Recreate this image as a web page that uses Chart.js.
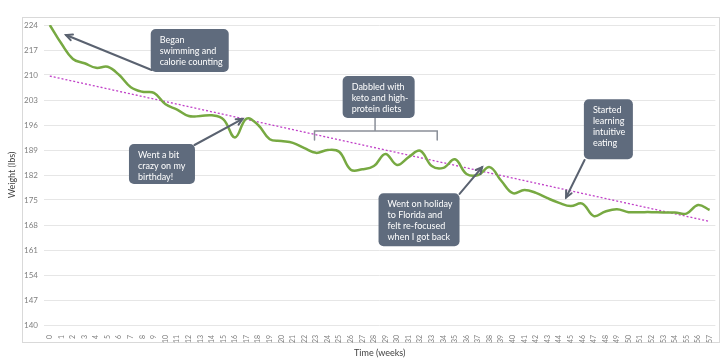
<!DOCTYPE html>
<html>
<head>
<meta charset="utf-8">
<script src="https://cdn.jsdelivr.net/npm/chart.js@4/dist/chart.umd.min.js"></script>
<style>
  html, body { margin: 0; padding: 0; background: #fff; }
</style>
</head>
<body>
<canvas id="chart" width="720" height="364"></canvas>
<script>
// week labels along the bottom
const weeks = ['0','1','2','3','4','5','6','7','8','9','10','11','12','13','14','15','16','17','18','19',
  '20','21','22','23','24','25','26','27','28','29','30','31','32','33','34','35','36','37','38','39',
  '40','41','42','43','44','45','46','47','48','49','50','51','52','53','54','55','56','57'];

// weight (lbs), one value per week
const weights = [224, 218.8, 214.5, 213.3, 212, 212.3, 210, 206.6, 205.3, 205,
  201.8, 200.3, 198.5, 198.5, 198.7, 197.6, 192.5, 197.8, 196, 192,
  191.5, 191, 189.5, 188.2, 189, 188.5, 183.5, 183.6, 184.5, 187.9,
  184.8, 187, 188.8, 184.5, 184, 186.4, 182.3, 182, 184.2, 180.4,
  176.9, 177.8, 177, 175.5, 174.2, 173.3, 174, 170.5, 171.8, 172.4,
  171.6, 171.6, 171.6, 171.5, 171.5, 171.2, 173.6, 172.2];

// dotted trend line: start and end points
const trendWeeks = [0, 57];
const trendLbs = [209.7, 169];

const yTicks = [140, 147, 154, 161, 168, 175, 182, 189, 196, 203, 210, 217, 224];

// notes on the chart, placed in week / lbs units
const notes = [
  { lines: ['Began', 'swimming and', 'calorie counting'], at: [8.72, 222.9], w: 78, h: 43,
    tail: [8.8, 211.4], tip: [1.4, 221.2] },
  { lines: ['Went a bit', 'crazy on my', 'birthday!'], at: [6.84, 190.7], w: 66, h: 40,
    tail: [12.5, 190.4], tip: [16.66, 197.7] },
  { lines: ['Dabbled with', 'keto and high-', 'protein diets'], at: [25.3, 209.7], w: 72, h: 42,
    bracket: { from: 22.87, to: 33.47, mid: 28.1, lbs: 194.3, drop: 191.8 } },
  { lines: ['Went on holiday', 'to Florida and', 'felt re-focused', 'when I got back'], at: [28.4, 176.9], w: 81, h: 53,
    tail: [35.4, 176.7], tip: [37.35, 184.2] },
  { lines: ['Started', 'learning', 'intuitive', 'eating'], at: [46.14, 203.2], w: 49, h: 60,
    tail: [46.2, 186.2], tip: [44.6, 175.7] }
];

const trendData = weeks.map(() => null);
trendWeeks.forEach((w, i) => { trendData[w] = trendLbs[i]; });

const frame = {
  id: 'frame',
  beforeDraw(chart) {
    const c = chart.ctx;
    c.save();
    c.strokeStyle = '#d9d9d9';
    c.lineWidth = 1;
    c.strokeRect(22.5, 17.5, 697, 325);
    c.restore();
  }
};

function arrow(c, x1, y1, x2, y2) {
  c.beginPath();
  c.moveTo(x1, y1);
  c.lineTo(x2, y2);
  c.stroke();
  const a = Math.atan2(y2 - y1, x2 - x1);
  const len = 7;
  c.beginPath();
  c.moveTo(x2 - len * Math.cos(a - 0.45), y2 - len * Math.sin(a - 0.45));
  c.lineTo(x2, y2);
  c.lineTo(x2 - len * Math.cos(a + 0.45), y2 - len * Math.sin(a + 0.45));
  c.stroke();
}

const callouts = {
  id: 'callouts',
  afterDraw(chart) {
    const c = chart.ctx;
    const xs = chart.scales.x, ys = chart.scales.y;
    const px = w => xs.getPixelForValue(w);
    const py = v => ys.getPixelForValue(v);
    c.save();
    notes.forEach(n => {
      // arrows / bracket
      c.strokeStyle = '#5a6270';
      c.lineWidth = 2;
      c.lineCap = 'round';
      if (n.tail) arrow(c, px(n.tail[0]), py(n.tail[1]), px(n.tip[0]), py(n.tip[1]));
      if (n.bracket) {
        const b = n.bracket;
        c.strokeStyle = '#8a8f98';
        c.lineWidth = 1.5;
        c.beginPath();
        c.moveTo(px(b.from), py(b.drop));
        c.lineTo(px(b.from), py(b.lbs));
        c.lineTo(px(b.to), py(b.lbs));
        c.lineTo(px(b.to), py(b.drop));
        c.moveTo(px(b.mid), py(b.lbs));
        c.lineTo(px(b.mid), py(n.at[1]) + n.h);
        c.stroke();
      }
      // box
      const bx = px(n.at[0]), by = py(n.at[1]);
      c.fillStyle = '#5f6b7d';
      c.beginPath();
      c.roundRect(bx, by, n.w, n.h, 5);
      c.fill();
      c.fillStyle = '#ffffff';
      c.font = '9px Lato';
      c.textBaseline = 'middle';
      c.textAlign = 'left';
      n.lines.forEach((t, i) => c.fillText(t, bx + 9, by + 11 + i * 11));
    });
    c.restore();
  }
};

new Chart(document.getElementById('chart'), {
  type: 'line',
  data: {
    labels: weeks,
    datasets: [
      {
        label: 'Weight',
        data: weights,
        borderColor: '#77a942',
        borderWidth: 2.5,
        pointRadius: 0,
        tension: 0.4,
        fill: false
      },
      {
        label: 'Trend',
        data: trendData,
        spanGaps: true,
        borderColor: '#c040c8',
        borderWidth: 1.3,
        borderDash: [2, 2],
        pointRadius: 0,
        tension: 0,
        fill: false
      }
    ]
  },
  options: {
    responsive: false,
    animation: false,
    devicePixelRatio: 1,
    layout: { padding: { left: 4, right: 0, top: 25, bottom: 2 } },
    plugins: {
      legend: { display: false },
      tooltip: { enabled: false }
    },
    scales: {
      x: {
        offset: true,
        grid: { display: false },
        border: { display: false },
        ticks: {
          minRotation: 90, maxRotation: 90, autoSkip: false,
          padding: 2,
          color: '#7f7f7f',
          font: { family: 'Lato', size: 7 }
        },
        title: {
          display: true, text: 'Time (weeks)', color: '#404040',
          font: { family: 'Lato', size: 9 }, padding: { top: 2, bottom: 4 }
        },
        afterFit(s) { s.height = 37; }
      },
      y: {
        min: 140, max: 224,
        afterBuildTicks(s) { s.ticks = yTicks.map(v => ({ value: v })); },
        grid: { color: '#e6e6e6', drawTicks: false },
        border: { display: false },
        ticks: {
          padding: 6,
          color: '#7f7f7f',
          font: { family: 'Lato', size: 8 }
        },
        title: {
          display: true, text: 'Weight (lbs)', color: '#404040',
          font: { family: 'Lato', size: 9 }, padding: { top: 3, bottom: 0 }
        },
        afterFit(s) { s.width = 40; }
      }
    }
  },
  plugins: [frame, callouts]
});
</script>
</body>
</html>
